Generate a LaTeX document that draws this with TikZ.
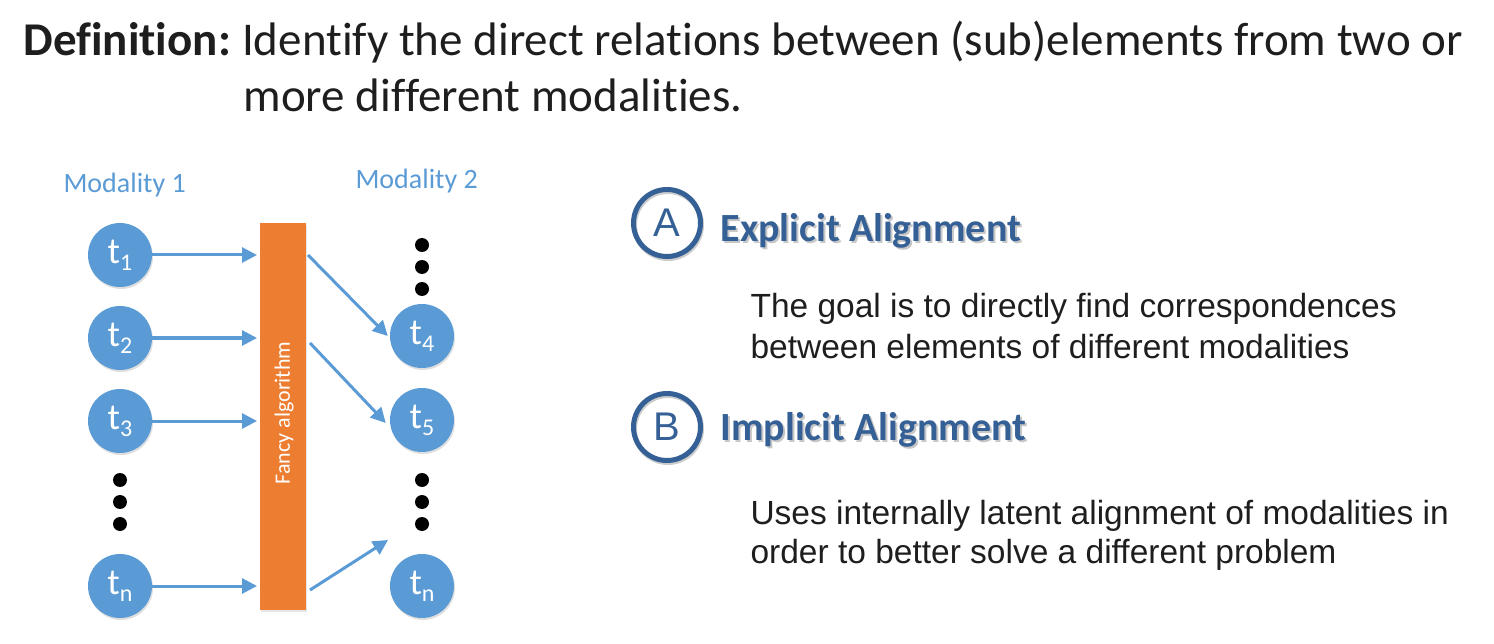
\documentclass[tikz,border=0pt]{standalone}
\usepackage{fontspec}
\setmainfont[Ligatures=NoCommon]{Carlito}
\newfontfamily\arialf{Liberation Sans}
\usetikzlibrary{arrows.meta,shadows}
\definecolor{lblue}{RGB}{91,155,213}
\definecolor{orng}{RGB}{237,125,49}
\definecolor{dblue}{RGB}{52,96,150}
\definecolor{txt}{RGB}{30,30,30}
\newcommand\tsub[1]{t\raisebox{-7pt}{\fontsize{24}{24}\selectfont #1}}
\begin{document}
\begin{tikzpicture}[x=1pt,y=-1pt,
  tok/.style={circle,fill=lblue,minimum size=64pt,inner sep=0pt,text=white,
    font=\fontsize{37}{37}\selectfont,
    drop shadow={shadow xshift=1pt,shadow yshift=-2pt,opacity=0.25}},
  bigdot/.style={circle,fill=black,minimum size=14pt,inner sep=0pt},
  arr/.style={draw=lblue,line width=3pt,-{Triangle[length=15pt,width=15pt]}},
  modlab/.style={anchor=base west,text=lblue,font=\fontsize{28}{28}\selectfont},
  letter/.style={circle,draw=dblue,line width=5pt,minimum size=67pt,inner sep=0pt,
    text=dblue,font=\arialf\fontsize{40}{40}\selectfont,
    drop shadow={shadow xshift=1pt,shadow yshift=-2pt,opacity=0.2,fill=none,draw=black}},
  head/.style={anchor=base west,text=dblue,font=\bfseries\fontsize{40}{40}\selectfont},
  headshadow/.style={anchor=base west,text=black,opacity=0.22,font=\bfseries\fontsize{40}{40}\selectfont},
  body/.style={anchor=base west,text=txt,font=\arialf\fontsize{33.5}{33.5}\selectfont},
  title/.style={anchor=base west,text=txt,font=\fontsize{47}{47}\selectfont}
]
\useasboundingbox (0,0) rectangle (1494,644);

% title
\node[title] (ti1) at (20,56) {\textbf{Definition:}\hspace{-3pt} Identify the direct relations between (sub)elements from two or};
\node[title] (ti2) at (240,112) {more different modalities.};

% modality labels
\node[modlab] (m1) at (60,193) {Modality 1};
\node[modlab] (m2) at (352,189) {Modality 2};

% bar
\node[fill=orng,minimum width=46pt,minimum height=387pt,inner sep=0pt,anchor=north west,
  drop shadow={shadow xshift=1pt,shadow yshift=-2pt,opacity=0.2}] (bar) at (260,223) {};
\node[rotate=90,text=white,font=\fontsize{22}{22}\selectfont] (fa) at (284,413) {Fancy algorithm};

% left tokens
\node[tok] (t1) at (120,255) {\tsub{1}};
\node[tok] (t2) at (120,338) {\tsub{2}};
\node[tok] (t3) at (120,421) {\tsub{3}};
\node[bigdot] (ld1) at (120,480) {};
\node[bigdot] (ld2) at (120,502) {};
\node[bigdot] (ld3) at (120,524) {};
\node[tok] (tn) at (120,586) {\tsub{n}};

% right tokens
\node[bigdot] (rd1) at (422,245) {};
\node[bigdot] (rd2) at (422,267) {};
\node[bigdot] (rd3) at (422,289) {};
\node[tok] (t4) at (422,336) {\tsub{4}};
\node[tok] (t5) at (422,420) {\tsub{5}};
\node[bigdot] (rd4) at (422,480) {};
\node[bigdot] (rd5) at (422,502) {};
\node[bigdot] (rd6) at (422,524) {};
\node[tok] (tm) at (422,586) {\tsub{n}};

% left arrows
\foreach \n in {t1,t2,t3,tn}
  \draw[arr] (\n.east) -- ([xshift=-3pt]\n -| bar.west);

% right arrows
\coordinate (r1) at (308,255);
\coordinate (r2) at (310,343);
\coordinate (r3) at (310,590);
\coordinate (e3) at (388,540);
\draw[arr] (r1) -- ([xshift=-2pt]t4.west);
\draw[arr] (r2) -- ([xshift=-4pt,yshift=-3pt]t5.west);
\draw[arr] (r3) -- (e3);

% right panel
\node[letter] (A) at (667,223) {A};
\node[headshadow] (hAs) at (719,244) {Explicit Alignment};
\node[head] (hA) at (717,242) {Explicit Alignment};
\node[body] (bA1) at (747,318) {The goal is to directly find correspondences};
\node[body] (bA2) at (747,358) {between elements of different modalities};

\node[letter] (B) at (667,427) {B};
\node[headshadow] (hBs) at (719,442) {Implicit Alignment};
\node[head] (hB) at (717,440) {Implicit Alignment};
\node[body] (bB1) at (747,524) {Uses internally latent alignment of modalities in};
\node[body] (bB2) at (747,563) {order to better solve a different problem};
\end{tikzpicture}
\end{document}
